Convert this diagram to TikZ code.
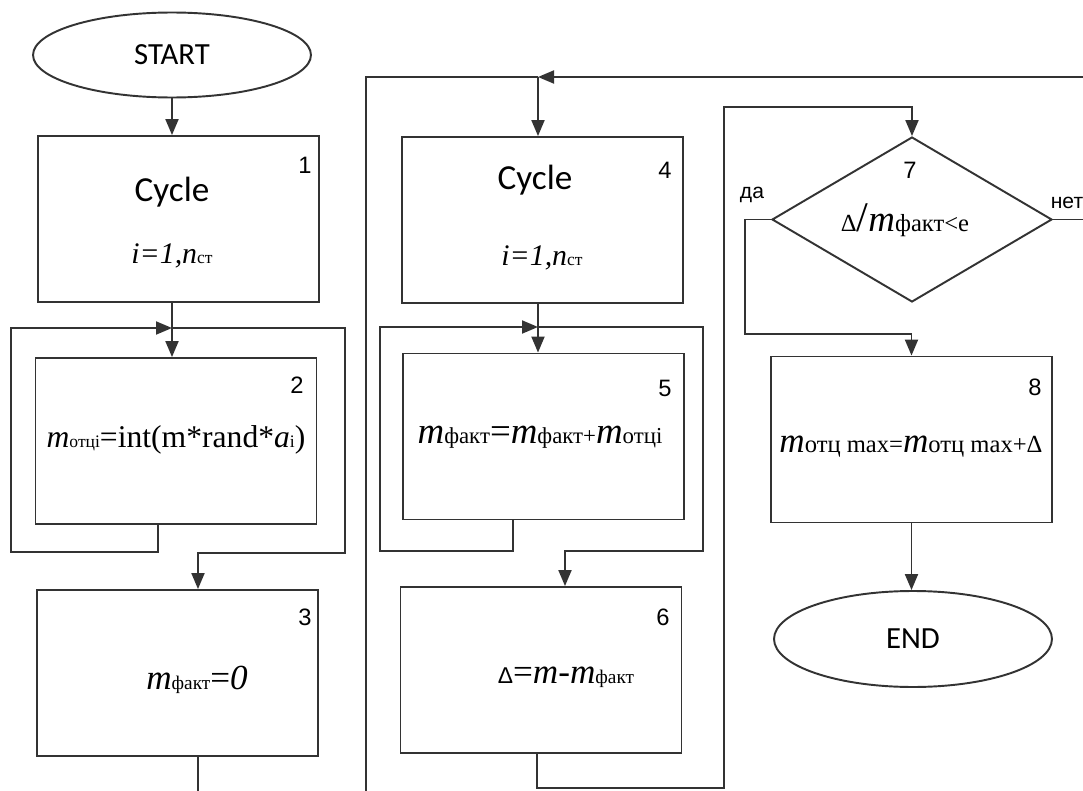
\documentclass[tikz,border=0pt]{standalone}
\usepackage{fontspec}
\setmainfont{Liberation Serif}
\newfontfamily\calfont{Carlito}
\newfontfamily\arfont{Liberation Sans}
\usepackage{xcolor}
\usetikzlibrary{arrows.meta}
\usetikzlibrary{shapes.geometric}
\usetikzlibrary{calc}
\definecolor{lc}{HTML}{333333}
\newcommand{\fs}[1]{\fontsize{#1}{#1}\selectfont}

\begin{document}
\begin{tikzpicture}[x=0.02cm, y=-0.02cm, line width=1.1pt, color=lc,
		every node/.append style={text=black},
		arr/.style={-{Triangle[length=0.32cm, width=0.26cm]}},
		blok/.style={draw, rectangle, minimum width=5.62cm, minimum height=3.32cm, inner sep=0pt},
		term/.style={draw, ellipse, minimum width=5.56cm, inner sep=0pt, font=\calfont\fs{17.5}},
		num/.style={font=\arfont\fs{13.5}, inner sep=0pt},
		cyc/.style={font=\calfont\fs{20}, inner sep=0pt},
		frm/.style={inner sep=0pt}]
				\useasboundingbox[fill=white] (0,0) rectangle (1083,791);
				
				%first column
				\node[term, minimum height=1.7cm] (start) at (172,55) {START};
				\node[blok] (b1) at (178.5,219) {};
				\node[cyc] (c1) at (172,192) {Cycle};
				\node[frm] (f1) at (172,256) {\fs{17}\textit{i=1,n}{\fs{10}ст}};
				\node[num] (n1) at (305,165) {1};
				\node[blok] (b2) at (176,441) {};
				\node[frm] (f2) at (176,440) {\fs{18}\textit{m}{\fs{10}отці}=int(m*rand*\textit{a}{\fs{10}i})};
				\node[num] (n2) at (297,385) {2};
				\node[blok] (b3) at (177.5,673) {};
				\node[frm] (f3) at (197,680) {\fs{20}\textit{m}{\fs{11}факт}=\textit{0}};
				\node[num] (n3) at (305,617) {3};
				
				% arrows first column
				\coordinate (j1) at (172,328);
				\coordinate (k2) at (11,552);
				\coordinate (r1) at (345,553);
				\coordinate (e1) at (198,791);
				\draw[arr] (start.south) -- (start.south |- b1.north);
				\draw (b1.south -| j1) -- (j1);
				\draw[arr] (j1) -- (j1 |- b2.north);
				\draw[arr] ([xshift=-0.36cm]b2.south) |- (k2) |- (j1);
				\draw[arr] (j1) -| (r1) -| ([xshift=0.41cm]b3.north);
				\draw ([xshift=0.41cm]b3.south) -- (e1);
				
				%second column
				\node[blok] (b4) at (542.5,220) {};
				\node[cyc] (c4) at (535,180) {Cycle};
				\node[frm] (f4) at (542,258) {\fs{17}\textit{i=1,n}{\fs{10}ст}};
				\node[num] (n4) at (665,170) {4};
				\node[blok] (b5) at (543.5,436.5) {};
				\node[frm] (f5) at (540,437) {\fs{21}\textit{m}{\fs{13}факт}=\textit{m}{\fs{13}факт+}\textit{m}{\fs{13}отці}};
				\node[num] (n5) at (665,388) {5};
				\node[blok] (b6) at (541,670) {};
				\node[frm] (f6) at (566,677) {\fs{20}{\arfont\fs{13}Δ}=\textit{m}-\textit{m}{\fs{11}факт}};
				\node[num] (n6) at (663,617) {6};
				
				% arrows second column
				\coordinate (t0) at (366,791);
				\coordinate (t1) at (1083,77);
				\coordinate (j4) at (538,77);
				\coordinate (j5) at (538,327);
				\coordinate (k5) at (380,551);
				\coordinate (r5) at (703,551);
				\coordinate (k6) at (724,788);
				\coordinate (k7) at (724,107);
				\draw (t0) |- (j4);
				\draw[arr] (t1) -- (j4);
				\draw[arr] (j4) -- (j4 |- b4.north);
				\draw (b4.south -| j5) -- (j5);
				\draw[arr] (j5) -- (j5 |- b5.north);
				\draw[arr] ([xshift=-0.61cm]b5.south) |- (k5) |- (j5);
				\draw[arr] (j5) -| (r5) -| ([xshift=0.48cm]b6.north);
				
				%third column
				\node[draw, diamond, minimum width=5.6cm, minimum height=3.3cm, inner sep=0pt] (d7) at (912,219.5) {};
				\node[num] (n7) at (910,170) {7};
				\node[frm] (f7) at (905,220) {\fs{21}{\fs{14}Δ}{\fs{24}/}\textit{m}{\fs{14}факт<e}};
				\node[font=\arfont\fs{12}, inner sep=0pt] (yes) at (752,195) {да};
				\node[font=\arfont\fs{12}, inner sep=0pt] (no) at (1067,203) {нет};
				\node[blok] (b8) at (911.5,439.5) {};
				\node[frm] (f8) at (911,447) {\fs{20}\textit{m}{\fs{14}отц max=}\textit{m}{\fs{14}отц max+Δ}};
				\node[num] (n8) at (1035,387) {8};
				\node[term, minimum height=1.92cm] (end) at (913,639) {END};
				
				% arrows third column
				\coordinate (k8) at (745,334);
				\draw[arr] ([xshift=-0.08cm]b6.south) |- (k6) -- (k7) -| (d7.north);
				\draw[arr] (d7.west) -| (k8) -| (b8.north);
				\draw (d7.east) -- (d7.east -| t1);
				\draw[arr] (b8.south) -- (b8.south |- end.north);
			\end{tikzpicture}
\end{document}
